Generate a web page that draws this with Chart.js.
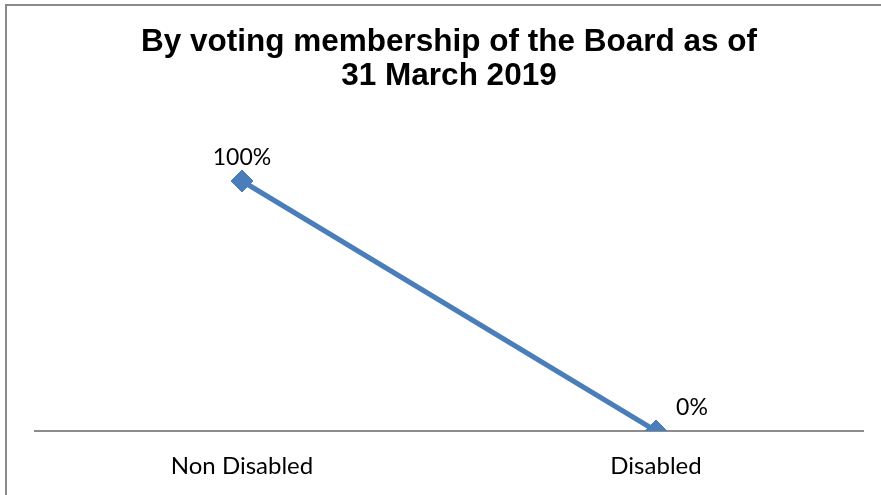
<!DOCTYPE html>
<html>
<head>
<meta charset="utf-8">
<script src="https://cdn.jsdelivr.net/npm/chart.js@4"></script>
<style>
  html,body{ margin:0; padding:0; background:#fff; overflow:hidden; }
  #wrap{ position:relative; width:881px; height:495px; }
  #frame{ position:absolute; left:5px; top:4px; width:900px; height:520px;
    border-left:2px solid #8a8a8a; border-top:2px solid #8a8a8a; pointer-events:none; }
</style>
</head>
<body>
<div id="wrap">
  <canvas id="ch-line" width="881" height="495"></canvas>
  <div id="frame"></div>
</div>
<script>
// ── DATA ──
const categories=['Non Disabled','Disabled'];
const shares=[1.0,0.0];
const shareLabels=['100%','0%'];
const titleLines=['By voting membership of the Board as of','31 March 2019'];

const blue='#4a7ebb', axisColor='#8c8c8c', txt='#000';
const labelFont="Lato, 'Open Sans', sans-serif";

// data labels: first one above the point, last one up-right of it
const dataLabels={
  id:'dataLabels',
  afterDatasetsDraw(chart){
    const ctx=chart.ctx, meta=chart.getDatasetMeta(0);
    const offs=[[0,-23],[36,-23]];
    ctx.save();
    ctx.font='23px '+labelFont;
    ctx.fillStyle=txt; ctx.textAlign='center'; ctx.textBaseline='middle';
    meta.data.forEach((p,i)=>{
      ctx.fillText(shareLabels[i], p.x+offs[i][0], p.y+offs[i][1]);
    });
    ctx.restore();
  }
};

new Chart(document.getElementById('ch-line'),{
  type:'line',
  data:{ labels:categories, datasets:[{
    data:shares, borderColor:blue, borderWidth:5, backgroundColor:blue,
    pointStyle:'rectRot', pointRadius:11, pointHoverRadius:11,
    pointBackgroundColor:blue, pointBorderColor:blue, pointBorderWidth:1, tension:0
  }]},
  options:{
    responsive:false, animation:false,
    layout:{ padding:{ left:35, right:18, top:0, bottom:0 } },
    plugins:{
      legend:{ display:false }, tooltip:{ enabled:false },
      title:{ display:true, text:titleLines, color:txt,
        font:{ family:"'Liberation Sans', Arial, sans-serif", size:31.5, weight:'bold', lineHeight:34/31.5 },
        padding:{ top:25, bottom:38 } }
    },
    scales:{
      x:{ offset:true,
        grid:{ display:false, drawTicks:false },
        border:{ display:true, color:axisColor, width:2 },
        ticks:{ color:txt, padding:21, font:{ family:labelFont, size:24 } },
        afterFit(s){ s.height=64; }
      },
      y:{ display:false, min:0, max:1.2 }
    }
  },
  plugins:[dataLabels]
});
</script>
</body>
</html>
